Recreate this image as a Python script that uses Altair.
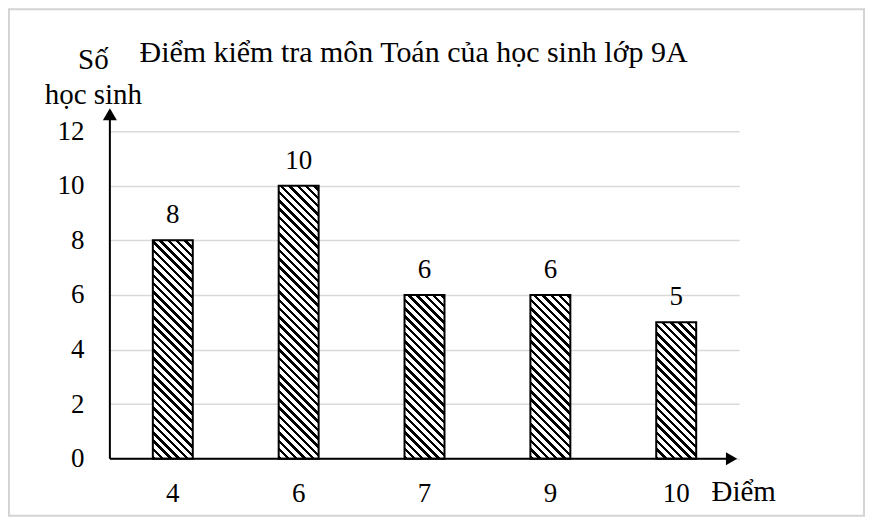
import altair as alt
import pandas as pd

# ---- data ----
categories = ["4", "6", "7", "9", "10"]
counts = [8, 10, 6, 6, 5]
y_ticks = [0, 2, 4, 6, 8, 10, 12]
title_text = "Điểm kiểm tra môn Toán của học sinh lớp 9A"
y_title = ["Số", "học sinh"]
x_title = "Điểm"

# ---- styling ----
FONT = "Liberation Serif"
FS = 27      # tick / value labels
TFS = 29     # axis titles
MFS = 30     # main title
W, H = 630, 328
YMAX = 12
BAR_W = 40
PERIOD = 8.3
BLACK_FRAC = 0.42
GRID = "#d9d9d9"

df = pd.DataFrame({"diem": categories, "so": counts})
one = pd.DataFrame({"k": [0]})


def hatch(v):
    h = v * H / YMAX
    w = BAR_W
    t = (w + h) / (w * w + h * h)
    n = (w + h) / PERIOD
    stops = []
    k = 0
    while k / n < 1:
        a = round(k / n, 5)
        b = round(min((k + BLACK_FRAC) / n, 1), 5)
        c = round(min((k + 1) / n, 1), 5)
        stops += [
            {"offset": a, "color": "black"},
            {"offset": b, "color": "black"},
            {"offset": b, "color": "white"},
            {"offset": c, "color": "white"},
        ]
        k += 1
    return {"gradient": "linear", "x1": 0, "y1": 1,
            "x2": round(w * t, 6), "y2": round(1 - h * t, 6), "stops": stops}


x_axis = alt.Axis(
    title=x_title, labelAngle=0, domain=False, ticks=False, grid=False,
    labelPadding=22, labelFontSize=FS, labelFont=FONT, labelColor="black",
    titleFont=FONT, titleFontSize=TFS, titleFontWeight="normal", titleColor="black",
    titleX=634, titleY=42, titleAlign="center", titleBaseline="alphabetic",
)
y_axis = alt.Axis(
    values=y_ticks, title=y_title, domain=False, ticks=False, grid=True,
    gridColor=GRID, gridWidth=1.5, labelFlush=False,
    labelPadding=26, labelFontSize=FS, labelFont=FONT, labelColor="black",
    titleFont=FONT, titleFontSize=TFS, titleFontWeight="normal", titleColor="black",
    titleAngle=0, titleX=-17, titleY=-63, titleAlign="center",
    titleBaseline="alphabetic", titleLineHeight=35,
)
x_scale = alt.Scale(paddingInner=0, paddingOuter=0)
y_scale = alt.Scale(domain=[0, YMAX], nice=False, zero=True)

x_enc = alt.X("diem:N", sort=categories, scale=x_scale, axis=x_axis)
y_enc = alt.Y("so:Q", scale=y_scale, axis=y_axis)


def ydat(v):
    return alt.Y(datum=v, type="quantitative", scale=y_scale, axis=y_axis)


frame = alt.Chart(one).mark_rect(
    filled=False, stroke="#d4d4d4", strokeWidth=2
).encode(x=alt.value(-101), x2=alt.value(755), y=alt.value(-122), y2=alt.value(385))

bars = [
    alt.Chart(df).transform_filter(alt.datum.diem == c).mark_bar(
        size=BAR_W, stroke="black", strokeWidth=2, fill=hatch(v)
    ).encode(x=x_enc, y=y_enc)
    for c, v in zip(categories, counts)
]

labels = alt.Chart(df).mark_text(
    dy=-17, baseline="alphabetic", fontSize=FS, font=FONT, color="black"
).encode(x=x_enc, y=y_enc, text="so:Q")

y_line = alt.Chart(one).mark_rule(color="black", strokeWidth=2).encode(
    x=alt.value(0), y=ydat(0), y2=alt.Y2(datum=12.5)
)
x_line = alt.Chart(one).mark_rule(color="black", strokeWidth=2).encode(
    x=alt.value(0), x2=alt.value(622), y=ydat(0)
)
y_arrow = alt.Chart(one).mark_point(
    shape="triangle-up", size=196, filled=True, color="black", opacity=1, strokeWidth=0
).encode(x=alt.value(0), y=ydat(12.62))
x_arrow = alt.Chart(one).mark_point(
    shape="triangle-right", size=169, filled=True, color="black", opacity=1, strokeWidth=0
).encode(x=alt.value(622.4), y=ydat(0))

title = alt.Chart(one).mark_text(
    text=title_text, fontSize=MFS, font=FONT, align="center",
    baseline="alphabetic", color="black"
).encode(x=alt.value(304), y=alt.value(-69))

chart = alt.layer(
    frame, *bars, labels, y_line, x_line, y_arrow, x_arrow, title
).properties(width=W, height=H, padding=0, background="white").configure_view(
    stroke="transparent"
)

chart.save("out.html", embed_options={"renderer": "svg", "actions": False})
